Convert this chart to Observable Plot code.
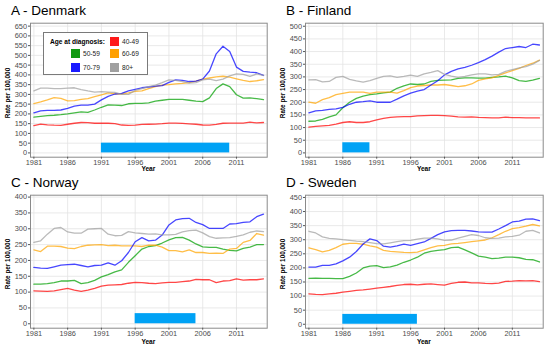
<!DOCTYPE html>
<html><head><meta charset="utf-8">
<script src="https://cdn.jsdelivr.net/npm/d3@7"></script>
<script src="https://cdn.jsdelivr.net/npm/@observablehq/plot@0.6"></script>
<style>
body{margin:0;background:#fff;font-family:"Liberation Sans",Arial,sans-serif;}
#wrap{position:relative;width:550px;height:345px;overflow:hidden;background:#fff;}
.panel{position:absolute;}
.panel svg{position:absolute;left:0;top:0;}
.title{position:absolute;font-size:13.5px;color:#000;white-space:nowrap;line-height:1;}
.ylab{position:absolute;font-size:6.4px;font-weight:bold;white-space:nowrap;line-height:1;transform:translate(-50%,-50%) rotate(-90deg);color:#000;}
.xlab{position:absolute;font-size:6.6px;font-weight:bold;white-space:nowrap;line-height:1;transform:translate(-50%,-50%);color:#000;}
.legend{position:absolute;border:1px solid #7a7a7a;background:#fff;}
.lt{position:absolute;font-size:6.6px;white-space:nowrap;line-height:1;color:#000;transform:translateY(-50%);}
.lk{position:absolute;width:8.5px;height:8.5px;}
</style></head>
<body><div id="wrap"></div>
<script>
const years = [1981,1982,1983,1984,1985,1986,1987,1988,1989,1990,1991,1992,1993,1994,1995,1996,1997,1998,1999,2000,2001,2002,2003,2004,2005,2006,2007,2008,2009,2010,2011,2012,2013,2014,2015];
const ages = ["40-49","50-59","60-69","70-79","80+"];
const ageColors = ["#FF0000","#00A000","#FFA500","#0000FF","#A0A0A0"];
const legendColors = ["#FF1a1a","#119911","#FFA000","#1a1aFF","#A0A0A0"];
const xTicks = [1981,1986,1991,1996,2001,2006,2011];
const barColor = "#00A2F5";

// Denmark
const denmark_40_49 = [140,148,144,142,141,147,152,156,155,152,152,152,150,143,141,142,146,147,148,150,153,153,151,149,147,143,142,146,152,153,153,153,158,154,156];
const denmark_50_59 = [183,187,191,193,196,200,205,210,208,220,234,246,245,243,252,254,254,256,265,270,274,274,274,270,265,263,282,330,354,340,298,281,282,278,273];
const denmark_60_69 = [253,262,272,283,280,267,268,274,278,288,298,308,303,302,308,315,318,330,340,348,350,354,356,360,368,378,384,390,393,388,380,372,366,370,376];
const denmark_70_79 = [205,216,218,218,220,228,240,245,245,250,272,290,302,305,318,326,334,338,342,345,362,374,372,366,368,378,420,508,547,520,440,418,414,411,397];
const denmark_80p  = [318,332,332,330,330,332,334,325,318,312,314,312,310,300,300,320,330,340,348,360,374,372,366,358,360,374,378,371,378,395,405,403,392,405,398];
// Finland
const finland_40_49 = [102,105,107,109,114,120,123,120,120,123,130,136,140,142,143,143,146,147,148,148,147,145,142,141,142,140,139,138,138,141,139,139,138,138,138];
const finland_50_59 = [125,126,132,142,150,178,200,215,224,230,233,237,240,255,265,272,270,272,282,286,287,288,294,296,296,295,295,298,300,303,296,285,282,287,294];
const finland_60_69 = [200,196,210,218,230,235,240,240,240,235,240,240,240,236,246,258,264,266,268,268,270,266,262,265,272,286,292,296,306,316,325,334,345,354,366];
const finland_70_79 = [158,166,168,172,174,180,192,200,202,205,200,200,200,212,225,236,244,250,268,285,308,322,332,338,346,356,368,382,398,412,416,420,416,429,426];
const finland_80p  = [288,289,280,282,298,302,290,284,279,285,294,302,304,298,302,307,302,312,318,325,310,303,298,302,308,312,312,308,310,322,329,336,341,350,365];
// Norway
const norway_40_49 = [104,103,102,104,108,112,106,102,106,112,119,122,123,124,128,131,130,128,127,129,131,131,133,135,140,139,139,130,135,136,142,138,139,139,142];
const norway_50_59 = [125,125,127,130,135,135,137,127,130,137,148,155,164,170,194,215,236,244,247,255,265,272,273,264,252,243,241,241,236,232,230,238,242,250,250];
const norway_60_69 = [233,228,245,245,244,239,237,244,248,249,250,247,248,246,246,246,244,248,248,242,231,231,227,233,225,225,222,223,222,236,238,257,263,285,280];
const norway_70_79 = [178,176,175,180,185,187,188,184,180,184,185,192,185,199,225,259,272,262,264,280,312,328,332,333,320,313,301,301,301,315,316,320,322,338,346];
const norway_80p  = [257,262,283,301,304,290,286,286,299,300,301,283,278,279,291,287,285,283,284,281,281,282,290,294,296,287,275,270,271,272,276,281,289,293,291];
// Sweden
const sweden_40_49 = [108,106,105,108,110,114,117,120,122,125,128,131,134,138,141,142,140,142,143,141,139,145,149,150,147,147,145,144,146,152,153,155,154,155,151];
const sweden_50_59 = [163,164,163,163,162,162,170,182,200,206,208,201,204,210,220,228,238,252,259,262,265,272,274,264,253,242,238,233,235,238,238,236,230,229,221];
const sweden_60_69 = [271,265,257,262,272,284,287,287,284,278,274,262,259,257,255,254,256,264,272,278,280,285,287,290,293,296,299,307,318,330,339,343,348,354,349];
const sweden_70_79 = [203,203,209,209,214,225,238,258,285,303,297,277,274,278,284,280,286,292,305,318,328,332,333,333,331,328,327,327,338,350,363,366,373,374,368];
const sweden_80p  = [330,324,310,305,303,300,298,295,293,290,286,285,289,293,297,298,302,306,306,303,298,299,306,312,318,315,307,305,306,310,312,316,330,333,324];

// screening programme bars: start year, end year, height
const barDenmark = [1991, 2010, 50];
const barFinland = [1986, 1990, 40];
const barNorway  = [1996, 2005, 32];
const barSweden  = [1986, 1997, 35];

const yTicksDenmark = [0,50,100,150,200,250,300,350,400,450,500,550,600,650];
const yTicksFinland = [0,50,100,150,200,250,300,350,400,450,500];
const yTicksNorway  = [0,50,100,150,200,250,300,350,400];
const yTicksSweden  = [0,50,100,150,200,250,300,350,400,450];

const titles = ["A - Denmark","B - Finland","C - Norway","D - Sweden"];

const panels = [
  {title: titles[0], left:0,   top:0,   h:172, mt:22.7, mb:15.3, ml:30, mr:8.3, yDomain:[-22,665], yTicks:yTicksDenmark, bar:barDenmark,
   series:[denmark_40_49,denmark_50_59,denmark_60_69,denmark_70_79,denmark_80p], legend:true},
  {title: titles[1], left:275, top:0,   h:172, mt:22.7, mb:15.3, ml:30, mr:7.3, yDomain:[-17,512], yTicks:yTicksFinland, bar:barFinland,
   series:[finland_40_49,finland_50_59,finland_60_69,finland_70_79,finland_80p]},
  {title: titles[2], left:0,   top:172, h:173, mt:22.7, mb:17.3, ml:30, mr:8.3, yDomain:[-14,406], yTicks:yTicksNorway, bar:barNorway,
   series:[norway_40_49,norway_50_59,norway_60_69,norway_70_79,norway_80p]},
  {title: titles[3], left:275, top:172, h:173, mt:22.7, mb:17.3, ml:30, mr:7.3, yDomain:[-14,458], yTicks:yTicksSweden, bar:barSweden,
   series:[sweden_40_49,sweden_50_59,sweden_60_69,sweden_70_79,sweden_80p]}
];

const xDomain = [1980.5, 2015.55];
const wrap = document.getElementById("wrap");

function el(cls, text, css, parent){
  const d = document.createElement("div");
  d.className = cls; if (text!=null) d.textContent = text;
  Object.assign(d.style, css); parent.appendChild(d); return d;
}

panels.forEach(p => {
  const rows = [];
  ages.forEach((a,i) => p.series[i].forEach((v,j) => rows.push({year: years[j], age: a, rate: v})));
  const bars = [{start: p.bar[0], end: p.bar[1], h: p.bar[2]}];
  const W = 275;
  const chart = Plot.plot({
    width: W, height: p.h,
    marginTop: p.mt, marginBottom: p.mb, marginLeft: p.ml, marginRight: p.mr,
    x: {domain: xDomain, label: null},
    y: {domain: p.yDomain, label: null},
    color: {domain: ages, range: ageColors},
    style: {fontSize: "7.4px", fontFamily: "'Liberation Sans', Arial, sans-serif", color: "#4d4d4d", background: "transparent"},
    marks: [
      Plot.gridX(xTicks, {stroke: "#e3e3e3", strokeOpacity: 1, strokeWidth: 0.8}),
      Plot.gridY(p.yTicks, {stroke: "#e3e3e3", strokeOpacity: 1, strokeWidth: 0.8}),
      Plot.rectY(bars, {x1: "start", x2: "end", y: "h", fill: barColor}),
      Plot.line(rows, {x: "year", y: "rate", z: "age", stroke: "age", strokeWidth: 1.3, strokeOpacity: 0.72}),
      Plot.frame({stroke: "#8a8a8a", strokeWidth: 1}),
      Plot.axisX(xTicks, {tickSize: 2, tickPadding: 1, tickFormat: d => String(d), label: null, stroke: "#555", fill: "#4d4d4d", fontSize: 7.4}),
      Plot.axisY(p.yTicks, {tickSize: 2, tickPadding: 1.5, label: null, stroke: "#555", fill: "#4d4d4d", fontSize: 7.4})
    ]
  });
  const pd = el("panel", null, {left: p.left+"px", top: p.top+"px", width: W+"px", height: p.h+"px"}, wrap);
  pd.appendChild(chart);
  el("title", p.title, {left: "11px", top: "3.5px"}, pd);
  const fx0 = p.ml, fx1 = W - p.mr, fy0 = p.mt, fy1 = p.h - p.mb;
  el("ylab", "Rate per 100,000", {left: "7.5px", top: ((fy0+fy1)/2 + 3) + "px"}, pd);
  el("xlab", "Year", {left: ((fx0+fx1)/2) + "px", top: (p.h - 3.3) + "px"}, pd);
  if (p.legend) {
    const lg = el("legend", null, {left: "43px", top: "32px", width: "103px", height: "41px"}, pd);
    el("lt", "Age at diagnosis:", {left: "6px", top: "8.5px", fontWeight: "bold"}, lg);
    const pos = [[66,4],[27,16],[66,16],[27,30],[66,30]];
    ages.forEach((a,i) => {
      el("lk", null, {left: pos[i][0]+"px", top: pos[i][1]+"px", background: legendColors[i]}, lg);
      el("lt", a, {left: (pos[i][0]+12)+"px", top: (pos[i][1]+4.5)+"px", color: "#222"}, lg);
    });
  }
});
</script></body></html>
